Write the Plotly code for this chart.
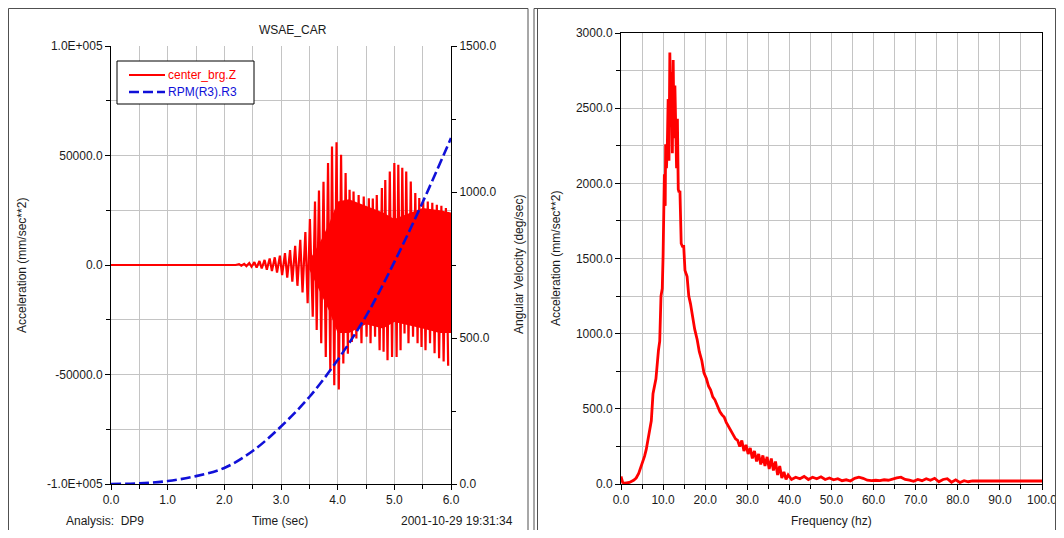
import plotly.graph_objects as go

# ---------------- data ----------------
# Left panel: acceleration signal (cycle peaks / troughs)
acc_flat_t = [0.0, 2.2]
acc_flat_v = [0.0, 0.0]
acc_hi_t = [2.26, 2.35, 2.44, 2.53, 2.62, 2.71, 2.80, 2.89, 2.98, 3.07, 3.16, 3.25, 3.34, 3.43,
            3.51, 3.60, 3.67, 3.75, 3.83, 3.90, 3.98, 4.06, 4.14, 4.21, 4.28, 4.37, 4.46, 4.55,
            4.62, 4.69, 4.78, 4.84, 4.92, 5.00, 5.07, 5.14, 5.21, 5.29, 5.37, 5.44, 5.51, 5.59,
            5.67, 5.75, 5.83, 5.91]
acc_hi = [400, 500, 900, 1300, 1800, 2300, 3000, 3500, 4300, 5400, 6800, 8800, 11500, 15000,
          21000, 29000, 34000, 38000, 46600, 54100, 56000, 50300, 42000, 34300, 33600, 32000,
          31300, 30500, 30300, 32000, 35100, 38800, 42700, 46600, 45800, 44400, 42700, 38100,
          32900, 30600, 29000, 29000, 28400, 27500, 27000, 26000]
acc_lo_t = [2.30, 2.39, 2.48, 2.57, 2.66, 2.75, 2.84, 2.93, 3.02, 3.11, 3.20, 3.29, 3.38, 3.47,
            3.56, 3.63, 3.71, 3.79, 3.87, 3.94, 4.02, 4.10, 4.18, 4.25, 4.33, 4.42, 4.51, 4.58,
            4.66, 4.74, 4.81, 4.88, 4.96, 5.04, 5.11, 5.18, 5.25, 5.33, 5.41, 5.48, 5.55, 5.63,
            5.71, 5.79, 5.87, 5.95]
acc_lo = [-300, -500, -800, -1200, -1600, -2200, -2800, -3500, -4600, -5800, -7600, -9500,
          -12500, -17400, -23600, -29700, -35700, -42000, -48000, -54900, -56800, -45000,
          -40500, -35200, -33600, -35700, -32800, -35700, -32800, -38900, -39600, -43500,
          -42000, -42000, -38900, -31300, -35700, -32800, -35700, -37400, -38900, -35700,
          -40300, -42600, -44000, -46000]
# dense (solid) core of the signal
core_t = [3.50, 3.70, 3.85, 4.00, 4.20, 4.50, 4.80, 5.00, 5.20, 5.50, 5.80, 6.00]
core_hi = [2000, 11000, 19000, 29000, 30000, 27000, 24000, 21000, 23000, 26000, 25000, 24000]
core_lo = [-2000, -13000, -21000, -31000, -31000, -27000, -29000, -26000, -27000, -29000, -31000, -31000]

# Left panel: angular velocity (right axis)
rpm_t = [0.0, 0.5, 1.0, 1.5, 2.0, 2.5, 3.0, 3.5, 4.0, 4.5, 5.0, 5.5, 6.0]
rpm_v = [0, 2, 10, 27, 55, 113, 197, 298, 425, 575, 760, 965, 1185]

# Right panel: spectrum
freq = [0.0, 0.4, 1.0, 2.0, 3.0, 3.6, 4.2, 4.8, 5.6, 6.0, 6.4, 7.0, 7.2, 7.6, 7.9, 8.3, 8.9, 9.2,
        9.5, 9.8, 10.0, 10.2, 10.3, 10.5, 10.6, 10.8, 11.0, 11.2, 11.4, 11.6, 11.8, 12.0, 12.2,
        12.4, 12.6, 12.8, 13.0, 13.2, 13.4, 13.6, 13.8, 14.0, 14.3, 14.6, 14.9, 15.2, 15.7, 16.1,
        16.5, 17.0, 17.5, 18.1, 18.6, 19.2, 19.7, 20.3, 20.8, 21.3, 21.8, 22.3, 22.9, 23.5, 24.0,
        24.5, 25.0, 25.6, 26.1, 26.6, 27.2, 27.7, 28.2, 28.7, 29.2, 29.7, 30.2, 30.7, 31.2, 31.7,
        32.2, 32.7, 33.2, 33.7, 34.2, 34.7, 35.2, 35.7, 36.2, 36.7, 37.2, 37.7, 38.2, 38.7, 39.2,
        39.7, 40.5, 41.5, 42.5, 43.5, 44.5, 45.5, 46.5, 47.5, 48.5, 49.5, 50.5, 51.5, 52.5, 53.5,
        54.5, 55.5, 56.5, 57.5, 58.5, 59.5, 60.5, 61.5, 62.5, 63.5, 64.5, 65.5, 66.5, 67.5, 68.5,
        69.5, 70.5, 71.5, 72.5, 73.5, 74.5, 75.5, 76.5, 77.5, 78.5, 79.5, 80.5, 81.5, 82.5, 83.5,
        85.0, 100.0]
spec = [50, 10, 5, 10, 25, 40, 70, 115, 185, 230, 300, 380, 420, 600, 640, 700, 890, 950,
        1250, 1300, 1520, 1850, 2060, 1850, 2260, 2100, 2250, 2560, 2150, 2870, 2500, 2740, 2200,
        2820, 2300, 2650, 2420, 2100, 2430, 1960, 1940, 1950, 1600, 1580, 1580, 1420, 1380, 1250,
        1200, 1100, 1030, 960, 880, 820, 740, 700, 650, 625, 580, 560, 515, 480, 460,
        445, 410, 380, 360, 340, 300, 290, 250, 290, 220, 260, 200, 240, 170, 220,
        150, 200, 130, 190, 120, 180, 100, 170, 90, 150, 60, 120, 40, 80, 30,
        60, 30, 45, 35, 50, 30, 45, 35, 48, 30, 40, 28, 35, 22, 28,
        20, 38, 45, 38, 25, 22, 25, 22, 28, 25, 35, 40, 45, 30, 25,
        18, 30, 22, 35, 25, 38, 15, 30, 35, 12, 28, 10, 22, 15, 20,
        20, 20]

# tick labels
t_ticks = [0, 1, 2, 3, 4, 5, 6]
t_labels = ["0.0", "1.0", "2.0", "3.0", "4.0", "5.0", "6.0"]
acc_ticks = [-100000, -50000, 0, 50000, 100000]
acc_labels = ["-1.0E+005", "-50000.0", "0.0", "50000.0", "1.0E+005"]
rpm_ticks = [0, 500, 1000, 1500]
rpm_labels = ["0.0", "500.0", "1000.0", "1500.0"]
f_ticks = [0, 10, 20, 30, 40, 50, 60, 70, 80, 90, 100]
f_labels = ["0.0", "10.0", "20.0", "30.0", "40.0", "50.0", "60.0", "70.0", "80.0", "90.0", "100.0"]
s_ticks = [0, 500, 1000, 1500, 2000, 2500, 3000]
s_labels = ["0.0", "500.0", "1000.0", "1500.0", "2000.0", "2500.0", "3000.0"]

# ---------------- figure ----------------
# page body keeps its default 8px margin, so the figure is 16px smaller than the window
OFF = 8
FW, FH = 1064 - 2 * OFF, 538 - 2 * OFF
FONT = "Liberation Sans, Arial, sans-serif"
RED = "#ff0000"
BLUE = "#1010d8"
GRID = "#c4c4c4"
TXT = "#1a1a1a"
FRAME = "#505050"

def fx(p):
    return (p - OFF) / FW

def fy(p):
    return 1 - (p - OFF) / FH

sig_t = list(acc_flat_t)
sig_v = list(acc_flat_v)
for a, b, c, d in zip(acc_hi_t, acc_hi, acc_lo_t, acc_lo):
    sig_t += [a, c]
    sig_v += [b, d]

fig = go.Figure()
fig.add_trace(go.Scatter(x=core_t + core_t[::-1], y=core_hi + core_lo[::-1], fill="toself",
                         fillcolor=RED, line=dict(width=0, color=RED), mode="lines",
                         xaxis="x", yaxis="y", showlegend=False, hoverinfo="skip"))
fig.add_trace(go.Scatter(x=sig_t, y=sig_v, mode="lines", line=dict(color=RED, width=2.2),
                         xaxis="x", yaxis="y", name="center_brg.Z", showlegend=False))
fig.add_trace(go.Scatter(x=rpm_t, y=rpm_v, mode="lines",
                         line=dict(color=BLUE, width=2.6, dash="10px,4px", shape="spline"),
                         xaxis="x", yaxis="y2", name="RPM(R3).R3", showlegend=False))
fig.add_trace(go.Scatter(x=freq, y=spec, mode="lines", line=dict(color=RED, width=2.8),
                         xaxis="x3", yaxis="y3", showlegend=False))

tickfont = dict(family=FONT, size=12, color=TXT)
common = dict(showline=True, linecolor="#000000", linewidth=1, ticks="outside", ticklen=5,
              tickcolor="#000000", tickfont=tickfont, zeroline=False, showgrid=True,
              gridcolor=GRID, gridwidth=1, ticklabeloverflow="allow")

fig.update_layout(
    width=FW, height=FH, margin=dict(l=0, r=0, t=0, b=0, autoexpand=False),
    paper_bgcolor="white", plot_bgcolor="white", showlegend=False,
    xaxis=dict(domain=[fx(111), fx(451)], range=[0, 6], anchor="y", tickmode="array",
               tickvals=t_ticks, ticktext=t_labels,
               minor=dict(dtick=0.5, tick0=0, ticks="outside", ticklen=4, tickcolor="#000",
                          showgrid=True, gridcolor=GRID), **common),
    yaxis=dict(domain=[fy(484), fy(46)], range=[-100000, 100000], anchor="x", tickmode="array",
               tickvals=acc_ticks, ticktext=acc_labels,
               minor=dict(dtick=25000, tick0=0, ticks="outside", ticklen=4, tickcolor="#000",
                          showgrid=True, gridcolor=GRID), **common),
    yaxis2=dict(overlaying="y", side="right", anchor="x", range=[0, 1500], tickmode="array",
                tickvals=rpm_ticks, ticktext=rpm_labels, showline=True, linecolor="#000000",
                ticks="outside", ticklen=5, tickcolor="#000", tickfont=tickfont, showgrid=False,
                zeroline=False, ticklabeloverflow="allow",
                minor=dict(dtick=250, tick0=0, ticks="outside", ticklen=4, tickcolor="#000",
                           showgrid=False)),
    xaxis3=dict(domain=[fx(621), fx(1042)], range=[0, 100], anchor="y3", tickmode="array",
                tickvals=f_ticks, ticktext=f_labels, mirror=True,
                minor=dict(dtick=5, tick0=0, ticks="outside", ticklen=4, tickcolor="#000",
                           showgrid=True, gridcolor=GRID), **common),
    yaxis3=dict(domain=[fy(484), fy(33)], range=[0, 3000], anchor="x3", tickmode="array",
                tickvals=s_ticks, ticktext=s_labels, mirror=True,
                minor=dict(dtick=250, tick0=0, ticks="outside", ticklen=4, tickcolor="#000",
                           showgrid=True, gridcolor=GRID), **common),
)

def pline(x0, y0, x1, y1, color=FRAME, width=1, dash=None):
    d = dict(type="line", xref="paper", yref="paper", x0=fx(x0), x1=fx(x1), y0=fy(y0), y1=fy(y1),
             line=dict(color=color, width=width))
    if dash:
        d["line"]["dash"] = dash
    return d

shapes = [
    # panel frames (left panel, right panel with double left edge)
    pline(8.5, 8.5, 528, 8.5), pline(8.5, 8.5, 8.5, 538), pline(528, 8.5, 528, 538),
    pline(534, 8.5, 1055.5, 8.5), pline(534, 8.5, 534, 538), pline(537.5, 8.5, 537.5, 538),
    pline(1055.5, 8.5, 1055.5, 538),
    # legend box and samples
    dict(type="rect", xref="paper", yref="paper", x0=fx(117), x1=fx(254), y0=fy(104), y1=fy(61),
         line=dict(color="#000000", width=1), fillcolor="white"),
    pline(129, 75, 165, 75, color=RED, width=2),
    pline(129, 92, 165, 92, color=BLUE, width=2.5, dash="10px,4px"),
]

def ann(text, x, y, xanchor="center", angle=0, color=TXT):
    return dict(text=text, x=fx(x), y=fy(y), xref="paper", yref="paper", showarrow=False,
                textangle=angle, font=dict(family=FONT, size=12, color=color),
                xanchor=xanchor, yanchor="middle")

annotations = [
    ann("WSAE_CAR", 293, 30),
    ann("center_brg.Z", 166, 75, xanchor="left", color=RED),
    ann("RPM(R3).R3", 166, 92, xanchor="left", color=BLUE),
    ann("Acceleration (mm/sec**2)", 22, 266, angle=-90),
    ann("Angular Velocity (deg/sec)", 519, 265, angle=-90),
    ann("Analysis:  DP9", 64, 521, xanchor="left"),
    ann("Time (sec)", 280, 521),
    ann("2001-10-29 19:31:34", 515, 521, xanchor="right"),
    ann("Acceleration (mm/sec**2)", 556, 259, angle=-90),
    ann("Frequency (hz)", 831, 521),
]
fig.update_layout(shapes=shapes, annotations=annotations)

fig.write_html("out.html", config={"displayModeBar": False})
